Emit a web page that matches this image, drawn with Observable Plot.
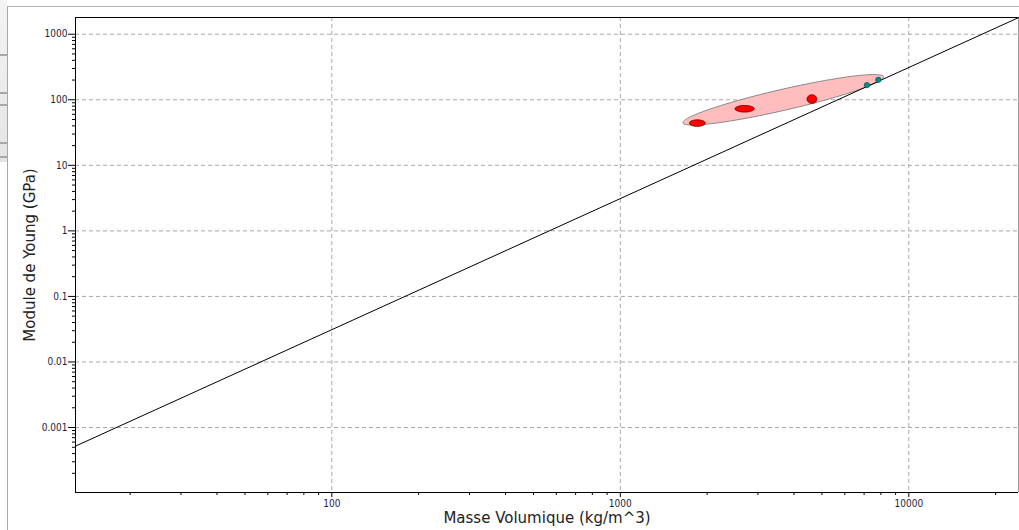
<!DOCTYPE html>
<html><head><meta charset="utf-8">
<script src="https://cdn.jsdelivr.net/npm/d3@7"></script>
<script src="https://cdn.jsdelivr.net/npm/@observablehq/plot@0.6"></script>
<style>
body{margin:0;background:#fff;overflow:hidden}
#wrap{position:relative;width:1019px;height:530px}
#chart{position:absolute;left:0;top:0}
.panel{position:absolute;left:7px;top:6px;right:0;bottom:0;border-left:1px solid #a8a8a8;border-top:1px solid #b4b4b4;pointer-events:none}
.strip{position:absolute;left:0;top:0;width:7px;height:162px;background:linear-gradient(#f4f4f4,#e4e4e4)}
.bar{position:absolute;left:0;width:7px;height:2px;background:#a8a8a8}
</style></head><body>
<div id="wrap">
<div class="strip"></div>
<div class="bar" style="top:54px"></div>
<div class="bar" style="top:92px"></div>
<div class="bar" style="top:104px"></div>
<div class="bar" style="top:142px"></div>
<div class="bar" style="top:156px"></div>
<div id="chart"></div>
<div class="panel"></div>
</div>
<script>
// ---- data ----
const xTitle = "Masse Volumique (kg/m^3)";
const yTitle = "Module de Young (GPa)";
const xDomain = [12.93, 24000];
const yDomain = [1.02e-4, 1800];
const xTicks = [100, 1000, 10000];
const yTicks = [0.001, 0.01, 0.1, 1, 10, 100, 1000];

// red materials (ellipses)
const redX = [1849, 2697, 4615];
const redY = [44.1, 72.9, 102.5];
// teal materials (dots)
const tealX = [7158, 7841];
const tealY = [167.6, 201.8];
// envelope ellipse centre
const envX = [3673];
const envY = [100];
// guide line (E / rho^2 = const) end points
const guideX = [12.93, 24000];
const guideY = [0.00052, 1790];

// minor tick positions (2..9 of each decade)
const xMinor = [], yMinor = [];
for (let e = 1; e <= 4; e++) for (let m = 2; m <= 9; m++) { const v = m * 10 ** e; if (v > xDomain[0] && v < xDomain[1]) xMinor.push(v); }
for (let e = -4; e <= 3; e++) for (let m = 2; m <= 9; m++) { const v = m * 10 ** e; if (v > yDomain[0] && v < yDomain[1]) yMinor.push(v); }

function ellipseSymbol(aspect, angleDeg) {
  const t = angleDeg * Math.PI / 180, c = Math.cos(t), s = Math.sin(t);
  return {
    draw(ctx, size) {
      const a = Math.sqrt(size / Math.PI), b = a * aspect, n = 96;
      for (let i = 0; i < n; i++) {
        const u = 2 * Math.PI * i / n, x = a * Math.cos(u), y = b * Math.sin(u);
        const X = x * c - y * s, Y = x * s + y * c;
        i ? ctx.lineTo(X, Y) : ctx.moveTo(X, Y);
      }
      ctx.closePath();
    }
  };
}

const redShapes = [[7.9, 0.41], [9.6, 0.34], [4.9, 0.87]];

const chart = Plot.plot({
  width: 1019, height: 530,
  marginLeft: 75, marginRight: 1, marginTop: 17, marginBottom: 38,
  x: {type: "log", domain: xDomain},
  y: {type: "log", domain: yDomain},
  style: {fontFamily: "'DejaVu Sans Condensed', 'DejaVu Sans', sans-serif", fontSize: "10px", color: "#222", background: "transparent"},
  marks: [
    Plot.gridX(xTicks, {stroke: "#a8a8a8", strokeOpacity: 1, strokeDasharray: "4,3"}),
    Plot.gridY(yTicks, {stroke: "#a8a8a8", strokeOpacity: 1, strokeDasharray: "4,3"}),
    Plot.ruleY([yDomain[1]], {stroke: "#000"}),
    Plot.ruleX([xDomain[1]], {stroke: "#999"}),
    Plot.ruleX([xDomain[0]], {stroke: "#000"}),
    Plot.ruleY([yDomain[0]], {stroke: "#000"}),
    Plot.axisX(xMinor, {tickSize: 3, tickFormat: () => "", label: null, stroke: "#000"}),
    Plot.axisY(yMinor, {tickSize: 3, tickFormat: () => "", label: null, stroke: "#000"}),
    Plot.axisX(xTicks, {tickSize: 5, tickPadding: 2, tickFormat: d => String(d), label: null, stroke: "#000", fill: "#1e1e3c"}),
    Plot.axisY(yTicks, {tickSize: 7, tickPadding: 1, tickFormat: d => String(d), label: null, stroke: "#000", fill: "#1e1e3c"}),
    Plot.dot(envX, {x: envX, y: envY, r: 103, symbol: ellipseSymbol(0.102, -12.95), fill: "#ffbdbd", stroke: "#8a8a8a", strokeWidth: 1}),
    Plot.line(guideX, {x: guideX, y: guideY, stroke: "#000", strokeWidth: 1}),
    ...redX.map((v, i) => Plot.dot([i], {x: [redX[i]], y: [redY[i]], r: redShapes[i][0], symbol: ellipseSymbol(redShapes[i][1], 0), fill: "#ff0000", stroke: "#7a0000", strokeWidth: 1})),
    Plot.dot(tealX, {x: tealX, y: tealY, r: 2.7, fill: "#008b8b", stroke: "#005a5a", strokeWidth: 0.7}),
    Plot.text([xTitle], {text: d => d, frameAnchor: "bottom", dy: 30, fontSize: 15, fontFamily: "'DejaVu Sans', sans-serif", fill: "#222"}),
    Plot.text([yTitle], {text: d => d, frameAnchor: "left", textAnchor: "middle", dx: -45, rotate: -90, fontSize: 15, fontFamily: "'DejaVu Sans', sans-serif", fill: "#222"})
  ]
});
document.getElementById("chart").appendChild(chart);
</script>
</body></html>
